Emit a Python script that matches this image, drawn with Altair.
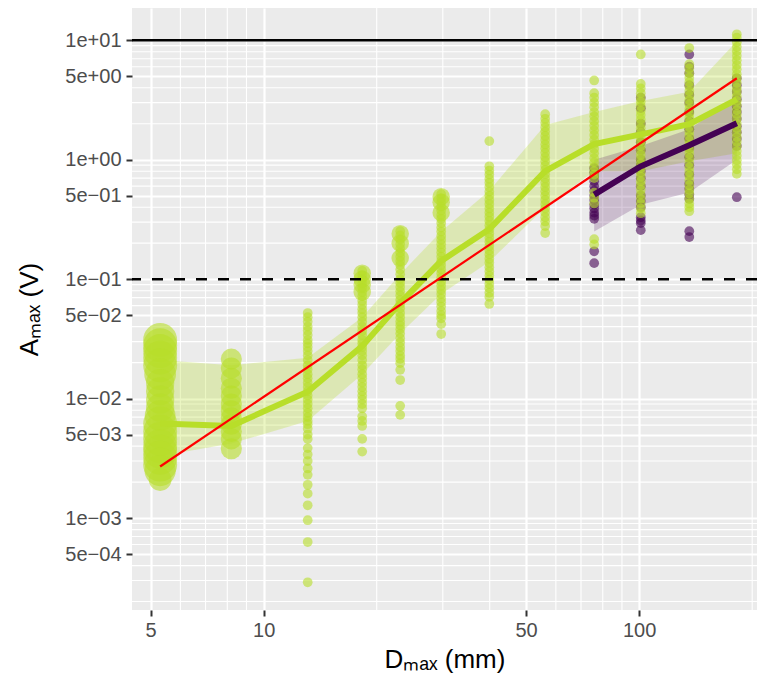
import altair as alt
import pandas as pd

# ---------------- data ----------------
XS = [5.3, 8.2, 13.1, 18.3, 23.1, 29.7, 39.9, 56.2, 75.9, 101, 136, 182]

green_pts = {
    5.3: [0.031, 0.028, 0.025, 0.022, 0.019, 0.016, 0.0135, 0.0115, 0.0098, 0.0084,
          0.0072, 0.0062, 0.0053, 0.0046, 0.004, 0.0036, 0.0032, 0.0028, 0.0025, 0.0021],
    8.2: [0.0214, 0.018, 0.0148, 0.0122, 0.0105, 0.009, 0.0079, 0.0069, 0.0061, 0.0053,
          0.0046, 0.0038],
    13.1: [0.052, 0.048, 0.044, 0.040, 0.037, 0.034, 0.031, 0.029, 0.027, 0.025, 0.023,
           0.021, 0.019, 0.0175, 0.016, 0.0148, 0.0136, 0.0125, 0.0115, 0.0106, 0.0098,
           0.009, 0.0083, 0.0076, 0.007, 0.0065, 0.0061, 0.0056, 0.005, 0.0046, 0.00385,
           0.0034, 0.003, 0.0026, 0.0023, 0.0019, 0.0016, 0.00128, 0.00096, 0.00063, 0.00029],
    18.3: [0.117, 0.108, 0.1, 0.092, 0.085, 0.078, 0.072, 0.066, 0.061, 0.056, 0.052,
           0.048, 0.044, 0.04, 0.037, 0.034, 0.031, 0.029, 0.027, 0.025, 0.023, 0.021,
           0.019, 0.0175, 0.016, 0.0148, 0.0136, 0.0125, 0.0115, 0.0106, 0.0098, 0.009,
           0.0083, 0.0071, 0.0065, 0.0059, 0.0046, 0.0036],
    23.1: [0.252, 0.232, 0.214, 0.197, 0.181, 0.167, 0.154, 0.142, 0.131, 0.12, 0.11, 0.1,
           0.093, 0.086, 0.079, 0.073, 0.067, 0.062, 0.057, 0.052, 0.048, 0.044, 0.041,
           0.038, 0.035, 0.032, 0.0295, 0.027, 0.025, 0.023, 0.0215, 0.0198, 0.0174,
           0.0143, 0.0087, 0.0073],
    29.7: [0.514, 0.475, 0.44, 0.405, 0.375, 0.345, 0.32, 0.295, 0.27, 0.25, 0.23, 0.213,
           0.196, 0.181, 0.167, 0.154, 0.142, 0.131, 0.121, 0.112, 0.103, 0.095, 0.088,
           0.081, 0.075, 0.069, 0.064, 0.059, 0.054, 0.05, 0.047, 0.042, 0.0347],
    39.9: [1.43, 0.88, 0.81, 0.75, 0.69, 0.64, 0.59, 0.54, 0.5, 0.46, 0.425, 0.39, 0.36,
           0.333, 0.307, 0.283, 0.261, 0.241, 0.222, 0.205, 0.189, 0.174, 0.161, 0.148,
           0.137, 0.126, 0.116, 0.107, 0.099, 0.091, 0.084, 0.077, 0.071, 0.062],
    56.2: [2.4, 2.2, 2.03, 1.87, 1.72, 1.58, 1.46, 1.34, 1.24, 1.14, 1.05, 0.97, 0.89,
           0.82, 0.755, 0.695, 0.64, 0.59, 0.543, 0.5, 0.46, 0.424, 0.39, 0.36, 0.33,
           0.304, 0.278, 0.243],
    75.9: [4.6, 3.6, 3.3, 3.0, 2.75, 2.5, 2.3, 2.1, 1.92, 1.76, 1.61, 1.47, 1.35, 1.23,
           1.13, 1.03, 0.95, 0.87, 0.8, 0.75, 0.7, 0.53, 0.48, 0.43, 0.216, 0.195],
    101: [7.6, 4.3, 3.95, 3.6, 3.3, 3.05, 2.8, 2.57, 2.36, 2.17, 1.99, 1.83, 1.68, 1.54,
          1.42, 1.3, 1.2, 1.1, 1.01, 0.93, 0.85, 0.78, 0.72, 0.66, 0.61, 0.56, 0.51, 0.47,
          0.43, 0.39, 0.356],
    136: [8.6, 6.3, 5.8, 5.3, 4.85, 4.45, 4.1, 3.75, 3.45, 3.15, 2.9, 2.65, 2.43, 2.23,
          2.05, 1.88, 1.72, 1.58, 1.45, 1.33, 1.22, 1.12, 1.03, 0.94, 0.86, 0.79, 0.73,
          0.67, 0.61, 0.56, 0.52, 0.47, 0.43, 0.4, 0.37],
    182: [11.2, 10.5, 9.6, 8.8, 8.1, 7.4, 6.8, 6.2, 5.7, 5.2, 4.8, 4.4, 4.0, 3.7, 3.4,
          3.1, 2.85, 2.6, 2.4, 2.2, 2.0, 1.83, 1.68, 1.54, 1.41, 1.29, 1.18, 1.08, 0.99,
          0.91, 0.83, 0.76],
}

purple_pts = {
    75.9: [0.85, 0.78, 0.72, 0.66, 0.6, 0.55, 0.5, 0.46, 0.42, 0.39, 0.36, 0.34, 0.32,
           0.171, 0.136],
    101: [3.3, 2.7, 2.0, 1.7, 1.4, 1.2, 1.0, 0.9, 0.8, 0.7, 0.6, 0.5, 0.45, 0.4, 0.33,
          0.31, 0.294, 0.257],
    136: [7.6, 6.0, 5.3, 4.2, 3.5, 3.0, 2.5, 2.1, 1.8, 1.5, 1.25, 1.05, 0.9, 0.75, 0.63,
          0.57, 0.51, 0.47, 0.252, 0.225],
    182: [4.8, 4.2, 3.7, 3.2, 2.8, 2.5, 2.2, 1.9, 1.7, 1.5, 1.3, 0.485],
}

# weight (mapped to point size) for the first column, point by point
w_first = [4, 4, 4, 4, 4, 3.6, 3, 3, 3, 3, 3.4, 4, 4, 4, 4, 4, 4, 4, 3.5, 2.2]
w_second = 2.0
# a few larger points near the tops of the middle columns
big_x = [18.3, 18.3, 18.3, 18.3, 23.1, 23.1, 23.1, 29.7, 29.7, 29.7]
big_y = [0.112, 0.1, 0.09, 0.078, 0.24, 0.2, 0.15, 0.49, 0.44, 0.36]
big_w = [1.6] * 10

green_mean = [0.0062, 0.0059, 0.0114, 0.0275, 0.063, 0.142, 0.262, 0.80, 1.35, 1.63, 1.98, 3.2]
green_lo = [0.0033, 0.0042, 0.0065, 0.016, 0.035, 0.075, 0.14, 0.40, 0.80, 0.80, 0.97, 1.13]
green_hi = [0.021, 0.019, 0.022, 0.048, 0.11, 0.25, 0.55, 1.95, 2.5, 3.1, 3.7, 9.8]

purple_x = [75.9, 101, 136, 182]
purple_mean = [0.51, 0.88, 1.32, 2.02]
purple_lo = [0.25, 0.42, 0.53, 1.0]
purple_hi = [1.0, 1.3, 1.8, 3.4]

fit_x = [5.3, 182]
fit_y = [0.0027, 4.8]

hline_solid = [10]
hline_dashed = [0.1]

x_ticks = [5, 10, 50, 100]
y_ticks = [10, 5, 1, 0.5, 0.1, 0.05, 0.01, 0.005, 0.001, 0.0005]
x_minor = [6, 7, 8, 9, 20, 30, 40, 60, 70, 80, 90, 200]
y_minor = [0.0002, 0.0003, 0.0004, 0.0006, 0.0007, 0.0008, 0.0009,
           0.002, 0.003, 0.004, 0.006, 0.007, 0.008, 0.009,
           0.02, 0.03, 0.04, 0.06, 0.07, 0.08, 0.09,
           0.2, 0.3, 0.4, 0.6, 0.7, 0.8, 0.9,
           2, 3, 4, 6, 7, 8, 9]

# ---------------- tables ----------------
rows = []
for cx, vals in purple_pts.items():
    for v in vals:
        rows.append({"x": cx, "y": v, "g": "p", "w": 1.0, "k": 0})
for cx, vals in green_pts.items():
    for i, v in enumerate(vals):
        if cx == 5.3:
            w = w_first[i]
        elif cx == 8.2:
            w = w_second
        else:
            w = 1.0
        rows.append({"x": cx, "y": v, "g": "g", "w": w, "k": 1})
for bx, by, bw in zip(big_x, big_y, big_w):
    rows.append({"x": bx, "y": by, "g": "g", "w": bw, "k": 1})
pts = pd.DataFrame(rows)

gline = pd.DataFrame({"x": XS, "y": green_mean, "lo": green_lo, "hi": green_hi})
pline = pd.DataFrame({"x": purple_x, "y": purple_mean, "lo": purple_lo, "hi": purple_hi})
fit = pd.DataFrame({"x": fit_x, "y": fit_y})

GREEN = "#B8DE29"
PURPLE = "#440154"
FONT = "Liberation Sans"

xs = alt.Scale(type="log", domain=[4.46, 206], nice=False)
ys = alt.Scale(type="log", domain=[0.00017, 18.6], nice=False)

x_axis = alt.Axis(values=x_ticks, labelExpr="format(datum.value, 'd')",
                  grid=True, gridColor="white", gridWidth=2.2, domain=False,
                  tickColor="#333333", tickSize=6, tickWidth=2,
                  labelFont=FONT, labelFontSize=20, labelColor="#4D4D4D", labelPadding=4,
                  labelFlush=False, labelOverlap=False,
                  title="Dₘₐₓ (mm)", titleFont=FONT, titleFontSize=26,
                  titleFontWeight="normal", titleColor="black", titlePadding=6)

y_label = ("round(datum.value/pow(10, floor(log(datum.value)/LN10+0.000001))) + 'e' + "
           "(floor(log(datum.value)/LN10+0.000001) < 0 ? '\u2212' : '+') + '0' + "
           "abs(floor(log(datum.value)/LN10+0.000001))")
y_axis = alt.Axis(values=y_ticks, labelExpr=y_label,
                  grid=True, gridColor="white", gridWidth=2.2, domain=False,
                  tickColor="#333333", tickSize=6, tickWidth=2,
                  labelFont=FONT, labelFontSize=20, labelColor="#4D4D4D", labelPadding=5,
                  labelFlush=False, labelOverlap=False,
                  title="Aₘₐₓ (V)", titleFont=FONT, titleFontSize=26,
                  titleFontWeight="normal", titleColor="black", titlePadding=22)

X = lambda f="x:Q": alt.X(f, scale=xs, axis=x_axis)
Y = lambda f="y:Q": alt.Y(f, scale=ys, axis=y_axis)

grid_x = alt.Chart(pd.DataFrame({"x": x_minor})).mark_rule(
    color="white", strokeWidth=1.1).encode(x=X())
grid_y = alt.Chart(pd.DataFrame({"y": y_minor})).mark_rule(
    color="white", strokeWidth=1.1).encode(y=Y())

rib_g = alt.Chart(gline).mark_area(color=GREEN, opacity=0.28).encode(
    x=X(), y=Y("lo:Q"), y2="hi:Q")
rib_p = alt.Chart(pline).mark_area(color=PURPLE, opacity=0.2).encode(
    x=X(), y=Y("lo:Q"), y2="hi:Q")

points = alt.Chart(pts).mark_circle(opacity=0.6).encode(
    x=X(), y=Y(),
    color=alt.Color("g:N", scale=alt.Scale(domain=["g", "p"], range=[GREEN, PURPLE]), legend=None),
    size=alt.Size("w:Q", scale=alt.Scale(type="linear", domain=[1, 4], range=[95, 1150], zero=False),
                  legend=None),
    order=alt.Order("k:Q"),
)

line_g = alt.Chart(gline).mark_line(color=GREEN, strokeWidth=6).encode(x=X(), y=Y())
line_p = alt.Chart(pline).mark_line(color=PURPLE, strokeWidth=6).encode(x=X(), y=Y())

h1 = alt.Chart(pd.DataFrame({"y": hline_solid})).mark_rule(
    color="black", strokeWidth=2.5).encode(y=Y())
h2 = alt.Chart(pd.DataFrame({"y": hline_dashed})).mark_rule(
    color="black", strokeWidth=2.5, strokeDash=[11, 11]).encode(y=Y())

fit_line = alt.Chart(fit).mark_line(color="red", strokeWidth=2.2).encode(x=X(), y=Y())

chart = alt.layer(grid_x, grid_y, rib_g, rib_p, points, line_g, line_p, h1, h2, fit_line).properties(
    width=625, height=602,
    padding={"left": 124, "top": 0, "right": 0, "bottom": 64},
    autosize=alt.AutoSizeParams(type="none"),
    background="white",
).configure_view(fill="#EBEBEB", strokeWidth=0)

chart.save("out.html", embed_options={"renderer": "svg", "actions": False})
